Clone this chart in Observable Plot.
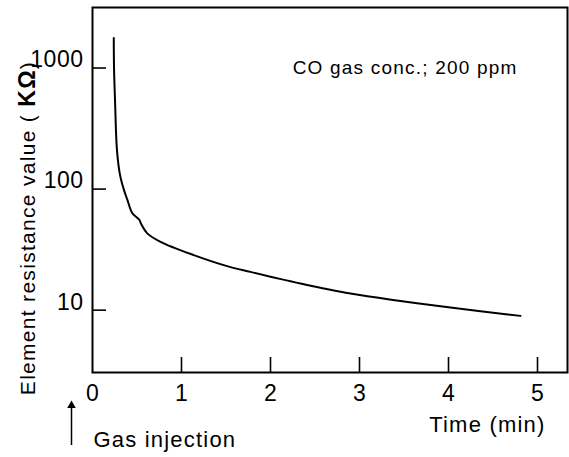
<!DOCTYPE html>
<html>
<head>
<meta charset="utf-8">
<script src="https://cdn.jsdelivr.net/npm/d3@7"></script>
<script src="https://cdn.jsdelivr.net/npm/@observablehq/plot@0.6"></script>
<style>
  html, body { margin: 0; padding: 0; background: #fff; }
  #chart svg { display: block; }
</style>
</head>
<body>
<div id="chart"></div>
<script>
// Time after gas injection (min) and element resistance (kΩ)
const timeMin = [0.239, 0.242, 0.253, 0.275, 0.309, 0.352, 0.393, 0.446, 0.502, 0.528, 0.545, 0.615, 0.764, 1.138, 1.513, 1.775, 2.337, 2.899, 3.461, 4.022, 4.809];
const resistance = [1770, 994, 544, 210, 131, 99, 81, 63.4, 58, 55.5, 51.8, 43.1, 36.7, 28.5, 23.1, 20.7, 16.6, 13.7, 11.9, 10.5, 8.97];

const xTickMarks = [1, 2, 3, 4, 5];
const xTickLabels = [0, 1, 2, 3, 4, 5];
const yTicks = [10, 100, 1000];

const xLabel = "Time (min)";
const yLabel = "Element resistance value ( KΩ)";
const note = "CO gas conc.; 200 ppm";
const injectionLabel = "Gas injection";
const injectionTime = [0];

const data = timeMin.map((t, i) => ({t, r: resistance[i]}));

const chart = Plot.plot({
  width: 569,
  height: 457,
  marginLeft: 92,
  marginRight: 2,
  marginTop: 7,
  marginBottom: 85,
  style: {fontFamily: "'Liberation Sans', Arial, sans-serif", background: "#fff", color: "#000", overflow: "visible"},
  x: {domain: [0, 5.337], axis: null},
  y: {type: "log", domain: [3.055, 3162], axis: null},
  marks: [
    Plot.frame({stroke: "#000", strokeWidth: 2}),
    Plot.tickX(xTickMarks, {x: d => d, stroke: "#000", strokeWidth: 1.6, insetTop: 350}),
    Plot.tickY(yTicks, {y: d => d, stroke: "#000", strokeWidth: 1.6, insetRight: 461}),
    Plot.text(xTickLabels, {x: d => d, text: d => String(d), frameAnchor: "bottom", lineAnchor: "top", dy: 12, fontSize: 23, fill: "#000"}),
    Plot.text(yTicks, {y: d => d, text: d => String(d), frameAnchor: "left", textAnchor: "end", dx: -9, dy: -8, fontSize: 23, fill: "#000"}),
    Plot.line(data, {x: "t", y: "r", stroke: "#000", strokeWidth: 2, curve: "catmull-rom"}),
    Plot.text([note], {text: d => d, frameAnchor: "top-right", textAnchor: "end", dx: -50, dy: 53, fontSize: 19, fill: "#000"}),
    Plot.text([yLabel], {text: d => d, frameAnchor: "left", textAnchor: "middle", rotate: -90, dx: -64, dy: 38, fontSize: 21, fill: "#000"}),
    Plot.text([xLabel], {text: d => d, frameAnchor: "bottom-right", textAnchor: "end", dx: -22, dy: 59, fontSize: 22, fill: "#000"}),
    Plot.text([injectionLabel], {text: d => d, frameAnchor: "bottom-left", textAnchor: "start", dx: 1, dy: 74, fontSize: 22, fill: "#000"}),
    Plot.ruleX(injectionTime, {x: d => d, dx: -21, stroke: "#000", strokeWidth: 1.5, insetTop: 398, insetBottom: -73}),
    Plot.dot(injectionTime, {x: d => d, frameAnchor: "bottom", dx: -21, dy: 33, symbol: "triangle", r: 3.2, fill: "#000", stroke: "none"})
  ]
});

// letter spacing to match the wide scanned type
const spacing = new Map([[note, "1.2px"], [yLabel, "1.3px"], [xLabel, "1.2px"], [injectionLabel, "1.2px"], ["1000", "0.5px"], ["100", "0.5px"], ["10", "0.5px"]]);
chart.querySelectorAll("text").forEach(t => {
  const s = spacing.get(t.textContent);
  if (s) t.setAttribute("letter-spacing", s);
});
// bold KΩ in the y label
chart.querySelectorAll("text").forEach(yl => {
  if (yl.textContent !== yLabel) return;
  const full = yl.textContent;
  const i = full.indexOf("KΩ");
  yl.textContent = "";
  const ns = "http://www.w3.org/2000/svg";
  const parts = [[full.slice(0, i), false], ["KΩ", true], [full.slice(i + 2), false]];
  for (const [s, b] of parts) {
    const ts = document.createElementNS(ns, "tspan");
    ts.textContent = s;
    if (b) { ts.setAttribute("font-weight", "bold"); ts.setAttribute("font-size", "23"); }
    yl.appendChild(ts);
  }
});
document.getElementById("chart").appendChild(chart);
</script>
</body>
</html>
